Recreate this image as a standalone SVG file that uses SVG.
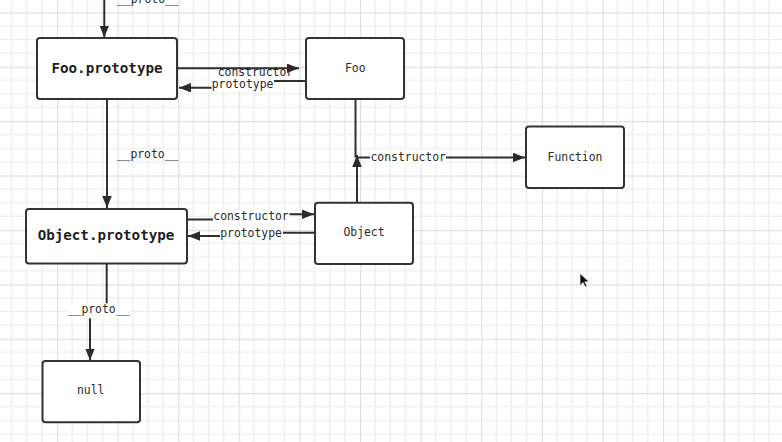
<svg xmlns="http://www.w3.org/2000/svg" width="782" height="442" viewBox="0 0 782 442">
  <defs>
    <pattern id="grid" patternUnits="userSpaceOnUse" x="57" y="12.3" width="60.6" height="54.4">
      <path d="M15.15,0V54.4M30.3,0V54.4M45.45,0V54.4M0,13.6H60.6M0,27.2H60.6M0,40.8H60.6" stroke="#ececec" stroke-width="1.2" fill="none"/>
      <path d="M0.5,0V54.4M0,0.5H60.6" stroke="#e0e0e0" stroke-width="1.3" fill="none"/>
    </pattern>
    <marker id="arr" markerUnits="userSpaceOnUse" markerWidth="13" markerHeight="11" refX="12" refY="4.75" orient="auto">
      <path d="M0,0 L12,4.75 L0,9.5 Z" fill="#2b2b2b"/>
    </marker>
    <style>
      .box { fill: #fff; stroke: #333; stroke-width: 2; }
      .conn { fill: none; stroke: #2f2f2f; stroke-width: 2; }
      .lbl { font-family: "DejaVu Sans Mono", "Liberation Mono", monospace; font-size: 11.4px; fill: #2a2a2a; }
      .nlbl { font-family: "DejaVu Sans Mono", "Liberation Mono", monospace; font-size: 11.4px; fill: #2a2a2a; text-anchor: middle; }
      .blbl { font-family: "DejaVu Sans Mono", "Liberation Mono", monospace; font-size: 14.2px; font-weight: bold; fill: #1e1e1e; text-anchor: middle; }
      .bg { fill: #fff; }
    </style>
  </defs>
  <rect width="782" height="442" fill="#fff"/>
  <rect width="782" height="442" fill="url(#grid)"/>

  <g id="connectors">
    <!-- top __proto__ into Foo.prototype -->
    <path class="conn" d="M104.3,-2 V37.5" marker-end="url(#arr)"/>
    <text class="lbl" x="117" y="2.5">__proto__</text>

    <!-- Foo.prototype -> Foo constructor -->
    <path class="conn" d="M177,68.3 H299" marker-end="url(#arr)"/>
    <text class="lbl" x="217.7" y="75.7">constructor</text>

    <!-- Foo -> Foo.prototype prototype -->
    <path class="conn" d="M306,81 H243 V87.7 H179" marker-end="url(#arr)"/>
    <rect class="bg" x="211.5" y="77" width="62.5" height="14"/>
    <text class="lbl" x="211.7" y="87.5">prototype</text>

    <!-- Foo.prototype -> Object.prototype __proto__ -->
    <path class="conn" d="M107,99 V208" marker-end="url(#arr)"/>
    <text class="lbl" x="116.7" y="157.8">__proto__</text>

    <!-- Object.prototype -> Object constructor -->
    <path class="conn" d="M187,219.5 H250 V214.3 H314" marker-end="url(#arr)"/>
    <rect class="bg" x="213" y="209" width="76.5" height="14"/>
    <text class="lbl" x="213.3" y="220">constructor</text>

    <!-- Object -> Object.prototype prototype -->
    <path class="conn" d="M315,232.7 H250 V236 H188" marker-end="url(#arr)"/>
    <rect class="bg" x="220" y="226" width="63" height="14"/>
    <text class="lbl" x="220.2" y="236.7">prototype</text>

    <!-- Object.prototype -> null __proto__ -->
    <path class="conn" d="M106.7,264 V310 H90 V360.5" marker-end="url(#arr)"/>
    <rect class="bg" x="67.5" y="303.3" width="62" height="15"/>
    <text class="lbl" x="67.7" y="312.5">__proto__</text>

    <!-- Foo down to junction -->
    <path class="conn" d="M355.5,99 V157.5"/>
    <!-- Object up to junction -->
    <path class="conn" d="M357,202.5 V155" marker-end="url(#arr)"/>
    <!-- junction -> Function constructor -->
    <path class="conn" d="M356,157.5 H525" marker-end="url(#arr)"/>
    <rect class="bg" x="370" y="150" width="76" height="14"/>
    <text class="lbl" x="370.5" y="160.5">constructor</text>
  </g>

  <g id="node-foo-prototype">
    <rect class="box" x="37" y="38" width="140" height="61" rx="3"/>
    <text class="blbl" x="107" y="72.7">Foo.prototype</text>
  </g>
  <g id="node-foo">
    <rect class="box" x="306" y="38" width="98" height="61" rx="3"/>
    <text class="nlbl" x="355.3" y="71.7">Foo</text>
  </g>
  <g id="node-function">
    <rect class="box" x="526" y="126.5" width="98" height="61.5" rx="3"/>
    <text class="nlbl" x="575" y="160.7">Function</text>
  </g>
  <g id="node-object-prototype">
    <rect class="box" x="26" y="209" width="161" height="54.5" rx="3"/>
    <text class="blbl" x="106" y="240">Object.prototype</text>
  </g>
  <g id="node-object">
    <rect class="box" x="315" y="202.7" width="98" height="61.3" rx="3"/>
    <text class="nlbl" x="364" y="235.8">Object</text>
  </g>
  <g id="node-null">
    <rect class="box" x="42.5" y="361" width="97.5" height="61.3" rx="3"/>
    <text class="nlbl" x="90.7" y="394.3">null</text>
  </g>

  <path d="M580,273.5 V285.5 L583,282.5 L585.3,287 L587,286.2 L584.8,281.8 L589,281.8 Z" fill="#111" stroke="#fff" stroke-width="0.6"/>
</svg>
